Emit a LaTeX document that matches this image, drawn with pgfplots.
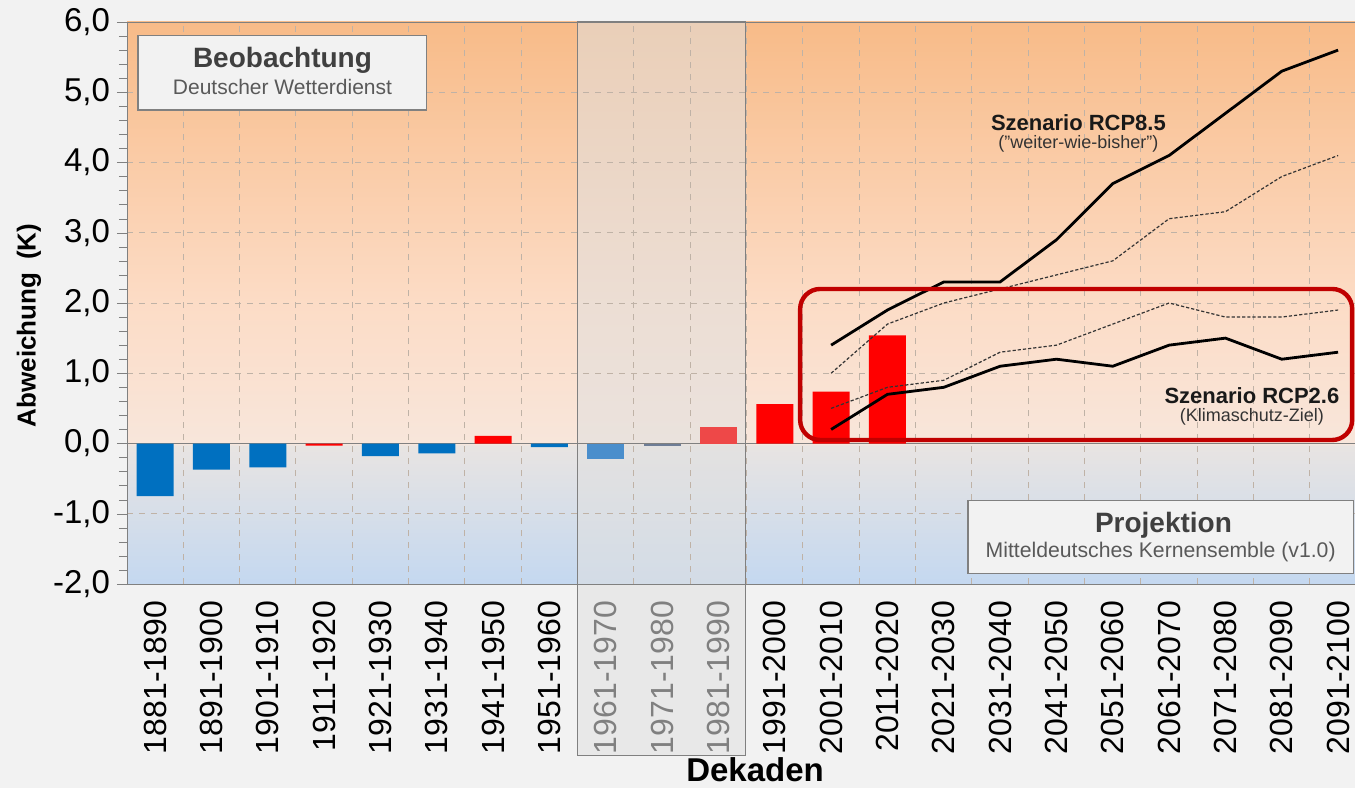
\documentclass[border=0pt]{standalone}
\usepackage{fontspec}
\setmainfont{Liberation Sans}
\usepackage{pgfplots}
\pgfplotsset{compat=1.18}
\definecolor{pagebg}{HTML}{F2F2F2}
\definecolor{bgtop}{HTML}{F8BB88}
\definecolor{bgmid}{HTML}{FCDCC6}
\definecolor{bgzero}{HTML}{F8E6DB}
\definecolor{bgbelow}{HTML}{E8E4E2}
\definecolor{bgbot}{HTML}{C4D8F0}
\definecolor{barblue}{HTML}{0070C0}
\definecolor{barred}{HTML}{FF0000}
\definecolor{boxred}{HTML}{C00000}
\definecolor{gridc}{HTML}{BFB2A6}
\definecolor{ovl}{HTML}{E0E0E0}
\pgfdeclareverticalshading{chartbg}{100bp}{color(0bp)=(bgbot); color(25bp)=(bgbot); color(37.3bp)=(bgbelow); color(37.5bp)=(bgzero); color(50bp)=(bgmid); color(75bp)=(bgtop); color(100bp)=(bgtop)}
\begin{document}
\begin{tikzpicture}
\path[use as bounding box, fill=pagebg] (-63.5pt,-102pt) rectangle (614pt,292pt);
\shade[shading=chartbg] (0pt,0pt) rectangle (614pt,281pt);
\fill[ovl, fill opacity=0.55] (225.4pt,-85.5pt) rectangle (309.3pt,281pt);
\begin{axis}[
  scale only axis, width=614pt, height=281pt,
  at={(0,0)}, anchor=south west,
  xmin=-0.5, xmax=21.3, ymin=-2, ymax=6,
  axis line style={draw=gray},
  xtick={0,...,21},
  xticklabels={1881-1890,1891-1900,1901-1910,1911-1920,1921-1930,1931-1940,1941-1950,1951-1960,\textcolor{gray}{1961-1970},\textcolor{gray}{1971-1980},\textcolor{gray}{1981-1990},1991-2000,2001-2010,2011-2020,2021-2030,2031-2040,2041-2050,2051-2060,2061-2070,2071-2080,2081-2090,2091-2100},
  xticklabel style={rotate=90, anchor=east, font=\fontsize{16}{19}\selectfont},
  major x tick style={draw=none}, minor x tick style={draw=none},
  minor xtick={0.5,1.5,...,20.5},
  xminorgrids, ymajorgrids,
  minor grid style={gridc, dashed, line width=0.5pt},
  major grid style={gridc, dashed, line width=0.5pt},
  ytick={-2,-1,0,1,2,3,4,5,6},
  minor y tick num=4,
  ytick pos=left,
  tick align=outside, major tick length=5pt, minor tick length=4pt,
  y tick style={gray},
  yticklabel style={font=\fontsize{16.5}{19}\selectfont, /pgf/number format/.cd, fixed, fixed zerofill, precision=1, use comma, assume math mode=true},
  clip=false,
]
\draw[gray, line width=0.6pt] (axis cs:7.5,6) rectangle (axis cs:10.48,-4.44);
\draw[gray, line width=0.6pt] (axis cs:-0.5,0) -- (axis cs:21.3,0);
% observation bars
\addplot[ybar, bar width=18.5pt, fill=barblue, draw=none] coordinates {(0,-0.75) (1,-0.37) (2,-0.34) (4,-0.18) (5,-0.14) (7,-0.05)};
\addplot[ybar, bar width=18.5pt, fill=barred, draw=none] coordinates {(3,-0.03) (6,0.11) (11,0.56) (12,0.74) (13,1.54)};
\addplot[ybar, bar width=18.5pt, fill={rgb,255:red,74;green,142;blue,204}, draw=none] coordinates {(8,-0.22)};
\addplot[ybar, bar width=18.5pt, fill={rgb,255:red,110;green,125;blue,150}, draw=none] coordinates {(9,-0.03)};
\addplot[ybar, bar width=18.5pt, fill={rgb,255:red,238;green,72;blue,72}, draw=none] coordinates {(10,0.23)};
% RCP8.5
\addplot[black, line width=1.4pt, mark=none] coordinates {(12,1.4) (13,1.9) (14,2.3) (15,2.3) (16,2.9) (17,3.7) (18,4.1) (19,4.7) (20,5.3) (21,5.6)};
\addplot[black!80, line width=0.6pt, dash pattern=on 1.6pt off 1pt, mark=none] coordinates {(12,1.0) (13,1.7) (14,2.0) (15,2.2) (16,2.4) (17,2.6) (18,3.2) (19,3.3) (20,3.8) (21,4.1)};
% RCP2.6
\addplot[black!80, line width=0.6pt, dash pattern=on 1.6pt off 1pt, mark=none] coordinates {(12,0.5) (13,0.8) (14,0.9) (15,1.3) (16,1.4) (17,1.7) (18,2.0) (19,1.8) (20,1.8) (21,1.9)};
\addplot[black, line width=1.4pt, mark=none] coordinates {(12,0.2) (13,0.7) (14,0.8) (15,1.1) (16,1.2) (17,1.1) (18,1.4) (19,1.5) (20,1.2) (21,1.3)};
% red frame
\draw[boxred, line width=2.2pt, rounded corners=10pt] (axis cs:11.45,2.2) rectangle (axis cs:21.25,0.05);
% labels
\node[font=\fontsize{11}{13}\selectfont\bfseries, text=black!90] at (axis cs:16.39,4.57) {Szenario RCP8.5};
\node[font=\fontsize{9}{11}\selectfont, text=black!80] at (axis cs:16.39,4.26) {("weiter-wie-bisher")};
\node[font=\fontsize{11}{13}\selectfont\bfseries, text=black!90] at (axis cs:19.47,0.68) {Szenario RCP2.6};
\node[font=\fontsize{9}{11}\selectfont, text=black!80] at (axis cs:19.47,0.38) {(Klimaschutz-Ziel)};
% text boxes
\draw[gray, fill=pagebg, line width=0.8pt] (axis cs:-0.31,5.81) rectangle (axis cs:4.82,4.75);
\node[font=\fontsize{14}{16}\selectfont\bfseries, text=black!75] at (axis cs:2.26,5.45) {Beobachtung};
\node[font=\fontsize{10.5}{12}\selectfont, text=black!65] at (axis cs:2.26,5.07) {Deutscher Wetterdienst};
\draw[gray, fill=pagebg, line width=0.8pt] (axis cs:14.43,-0.81) rectangle (axis cs:21.27,-1.85);
\node[font=\fontsize{14}{16}\selectfont\bfseries, text=black!75] at (axis cs:17.9,-1.17) {Projektion};
\node[font=\fontsize{10.6}{12.5}\selectfont, text=black!65] at (axis cs:17.85,-1.54) {Mitteldeutsches Kernensemble (v1.0)};
% axis titles
\node[rotate=90, font=\fontsize{13}{15}\selectfont\bfseries] at (axis cs:-2.24,1.68) {Abweichung\enspace(K)};
\node[font=\fontsize{16.5}{19}\selectfont\bfseries, inner sep=0pt] at (axis cs:10.65,-2) [yshift=-93pt] {Dekaden};
\end{axis}
\end{tikzpicture}
\end{document}
